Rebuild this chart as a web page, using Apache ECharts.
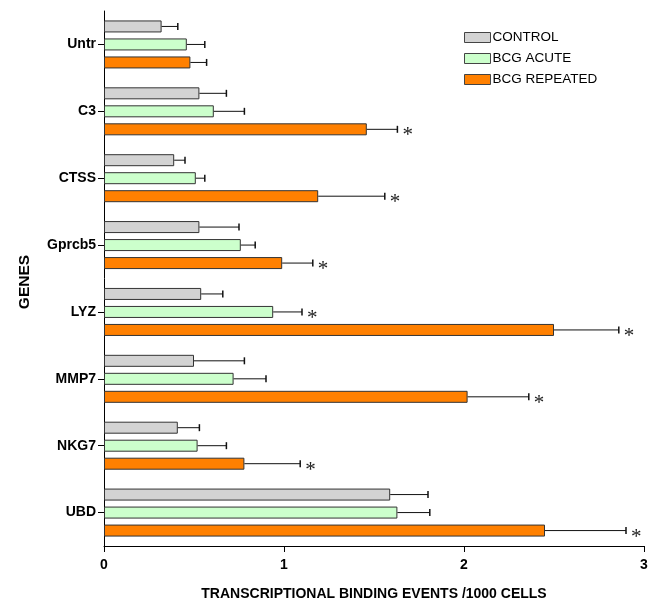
<!DOCTYPE html>
<html>
<head>
<meta charset="utf-8">
<script src="https://cdn.jsdelivr.net/npm/echarts@6/dist/echarts.min.js"></script>
<style>
  html, body { margin: 0; padding: 0; background: #fff; }
  #chart { width: 654px; height: 601px; }
</style>
</head>
<body>
<div id="chart"></div>
<script>
// Genes on the category axis, top to bottom
var genes = ['Untr', 'C3', 'CTSS', 'Gprcb5', 'LYZ', 'MMP7', 'NKG7', 'UBD'];

// Mean transcriptional binding events per 1000 cells, with SEM
var control      = [0.32, 0.53, 0.39, 0.53, 0.54, 0.50, 0.41, 1.59];
var controlErr   = [0.09, 0.15, 0.06, 0.22, 0.12, 0.28, 0.12, 0.21];
var acute        = [0.46, 0.61, 0.51, 0.76, 0.94, 0.72, 0.52, 1.63];
var acuteErr     = [0.10, 0.17, 0.05, 0.08, 0.16, 0.18, 0.16, 0.18];
var repeated     = [0.48, 1.46, 1.19, 0.99, 2.50, 2.02, 0.78, 2.45];
var repeatedErr  = [0.09, 0.17, 0.37, 0.17, 0.36, 0.34, 0.31, 0.45];

// Significance markers (1 = asterisk)
var controlSig   = [0, 0, 0, 0, 0, 0, 0, 0];
var acuteSig     = [0, 0, 0, 0, 1, 0, 0, 0];
var repeatedSig  = [0, 1, 1, 1, 1, 1, 1, 1];

var xTicks = { min: 0, max: 3, interval: 1 };

var groupNames = ['CONTROL', 'BCG ACUTE', 'BCG REPEATED'];
var groupColors = ['#d3d3d3', '#ccffcc', '#ff8000'];

var BAR_W = 12;
var BAR_STEP = 18;
var FONT = '"Liberation Sans", Arial, sans-serif';

var groups = [
  { mean: control, err: controlErr, sig: controlSig },
  { mean: acute, err: acuteErr, sig: acuteSig },
  { mean: repeated, err: repeatedErr, sig: repeatedSig }
];

var errData = [];
groups.forEach(function (g, s) {
  genes.forEach(function (name, i) {
    errData.push([g.mean[i], i, g.err[i], s, g.sig[i]]);
  });
});

var barSeries = groups.map(function (g, s) {
  return {
    name: groupNames[s],
    type: 'bar',
    data: g.mean,
    barWidth: BAR_W,
    barGap: '50%',
    itemStyle: { color: groupColors[s], borderColor: '#333', borderWidth: 1 },
    emphasis: { disabled: true },
    silent: true,
    z: 2
  };
});

// One-sided error bars with end caps, plus significance asterisks
var errorSeries = {
  type: 'custom',
  silent: true,
  z: 3,
  data: errData,
  encode: { x: 0, y: 1 },
  renderItem: function (params, api) {
    var mean = api.value(0), cat = api.value(1), sem = api.value(2);
    var s = api.value(3), sig = api.value(4);
    var p0 = api.coord([mean, cat]);
    var p1 = api.coord([mean + sem, cat]);
    var y = p0[1] + (s - 1) * BAR_STEP;
    var children = [
      { type: 'line', shape: { x1: p0[0], y1: y, x2: p1[0], y2: y },
        style: { stroke: '#111', lineWidth: 1 } },
      { type: 'line', shape: { x1: p1[0], y1: y - 3.5, x2: p1[0], y2: y + 3.5 },
        style: { stroke: '#111', lineWidth: 1.5 } }
    ];
    if (sig) {
      children.push({
        type: 'text',
        x: p1[0] + 5, y: y - 4,
        style: { text: '*', fill: '#222', font: '21px "Liberation Serif", "Times New Roman", serif',
                 textVerticalAlign: 'top', textAlign: 'left' }
      });
    }
    return { type: 'group', children: children };
  }
};

var chart = echarts.init(document.getElementById('chart'), null, { renderer: 'canvas' });
chart.setOption({
  animation: false,
  backgroundColor: '#fff',
  textStyle: { fontFamily: FONT },
  grid: { left: 104, right: 10, top: 11, bottom: 55, containLabel: false, outerBoundsMode: 'none' },
  legend: {
    left: 459, top: 25,
    orient: 'vertical',
    itemWidth: 26, itemHeight: 10, itemGap: 6,
    icon: 'rect',
    selectedMode: false,
    textStyle: { fontFamily: FONT, fontSize: 13.5, color: '#000', padding: [0, 0, 0, -3], lineHeight: 15 },
    data: groupNames.map(function (n, s) {
      return { name: n, itemStyle: { color: groupColors[s], borderColor: '#444', borderWidth: 1 } };
    })
  },
  xAxis: {
    type: 'value',
    min: xTicks.min, max: xTicks.max, interval: xTicks.interval,
    name: 'TRANSCRIPTIONAL BINDING EVENTS /1000 CELLS',
    nameLocation: 'middle', nameGap: 41,
    nameTextStyle: { fontFamily: FONT, fontWeight: 'bold', fontSize: 14, color: '#000' },
    axisLine: { show: true, lineStyle: { color: '#000', width: 1 } },
    axisTick: { show: true, length: 6, lineStyle: { color: '#000' } },
    axisLabel: { fontFamily: FONT, fontWeight: 'bold', fontSize: 14, color: '#000', margin: 12 },
    splitLine: { show: false }
  },
  yAxis: {
    type: 'category',
    data: genes,
    inverse: true,
    name: 'GENES',
    nameLocation: 'middle', nameGap: 71, nameRotate: 90,
    nameTextStyle: { fontFamily: FONT, fontWeight: 'bold', fontSize: 15.5, color: '#000', padding: [0, 7, 0, 0] },
    axisLine: { show: true, lineStyle: { color: '#000', width: 1 } },
    axisTick: { show: true, alignWithLabel: true, length: 6, lineStyle: { color: '#000' } },
    axisLabel: { fontFamily: FONT, fontWeight: 'bold', fontSize: 14, color: '#000', margin: 8 },
    splitLine: { show: false }
  },
  series: barSeries.concat([errorSeries])
});
</script>
</body>
</html>
